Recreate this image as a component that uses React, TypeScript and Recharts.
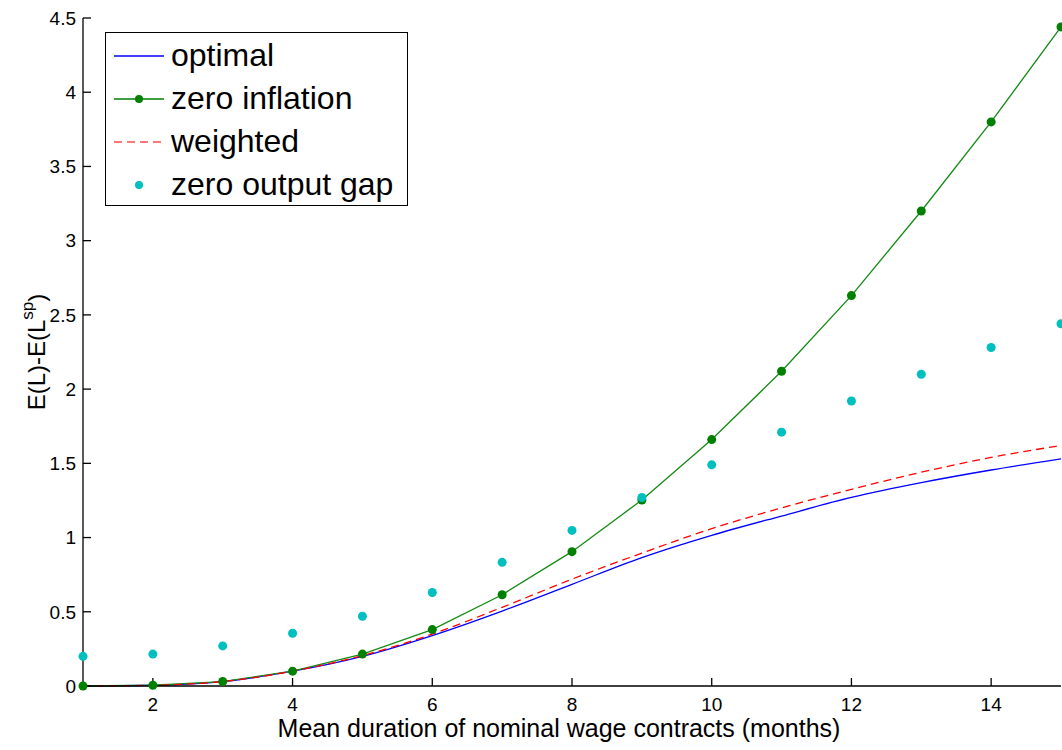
import { LineChart, Line, XAxis, YAxis, Legend, Label } from 'recharts';

const months = [1, 2, 3, 4, 5, 6, 7, 8, 9, 10, 11, 12, 13, 14, 15];
const optimal = [0, 0.005, 0.03, 0.1, 0.2, 0.34, 0.505, 0.685, 0.865, 1.015, 1.145, 1.27, 1.37, 1.455, 1.53];
const zeroInflation = [0, 0.005, 0.03, 0.1, 0.215, 0.38, 0.615, 0.905, 1.253, 1.66, 2.12, 2.63, 3.2, 3.8, 4.44];
const weighted = [0, 0.005, 0.03, 0.1, 0.205, 0.35, 0.53, 0.72, 0.895, 1.06, 1.2, 1.325, 1.44, 1.54, 1.62];
const zeroOutputGap = [0.2, 0.215, 0.27, 0.355, 0.47, 0.63, 0.833, 1.048, 1.27, 1.49, 1.71, 1.92, 2.1, 2.28, 2.44];

const xTicks = [2, 4, 6, 8, 10, 12, 14];
const yTicks = [0, 0.5, 1, 1.5, 2, 2.5, 3, 3.5, 4, 4.5];

const data = months.map((m, i) => ({
  x: m,
  optimal: optimal[i],
  zeroInflation: zeroInflation[i],
  weighted: weighted[i],
  zeroOutputGap: zeroOutputGap[i],
}));

const FONT = '"Liberation Sans", Arial, Helvetica, sans-serif';

const legendItems = [
  { label: 'optimal', kind: 'line', color: '#0000ff' },
  { label: 'zero inflation', kind: 'lineDot', color: '#008000' },
  { label: 'weighted', kind: 'dash', color: '#ff0000' },
  { label: 'zero output gap', kind: 'dot', color: '#00bfbf' },
];

const renderLegend = () => (
  <div
    style={{
      border: '1.5px solid #000',
      background: '#fff',
      width: 303,
      height: 174,
      boxSizing: 'border-box',
      paddingTop: 1,
      fontFamily: FONT,
    }}
  >
    {legendItems.map((it) => (
      <div key={it.label} style={{ display: 'flex', alignItems: 'center', height: 43 }}>
        <svg width={50} height={20} style={{ marginLeft: 8, marginRight: 7 }}>
          {it.kind !== 'dot' && (
            <line
              x1={0}
              y1={10}
              x2={50}
              y2={10}
              stroke={it.color}
              strokeWidth={1.3}
              strokeDasharray={it.kind === 'dash' ? '8 5' : undefined}
              opacity={it.kind === 'dash' ? 0.7 : 1}
            />
          )}
          {(it.kind === 'lineDot' || it.kind === 'dot') && <circle cx={25} cy={10} r={4} fill={it.color} />}
        </svg>
        <span style={{ fontSize: 32, color: '#000', lineHeight: '43px' }}>{it.label}</span>
      </div>
    ))}
  </div>
);

const YTitle = ({ viewBox }: any) => {
  const cx = viewBox.x + 13;
  const cy = viewBox.y + viewBox.height / 2;
  return (
    <text
      x={cx}
      y={cy}
      transform={`rotate(-90 ${cx} ${cy})`}
      textAnchor="middle"
      dominantBaseline="central"
      fontSize={24}
      fontFamily={FONT}
      fill="#000"
    >
      E(L)-E(L
      <tspan dy={-9} fontSize={17}>sp</tspan>
      <tspan dy={9}>)</tspan>
    </text>
  );
};

const XTitle = ({ viewBox }: any) => (
  <text
    x={viewBox.x + viewBox.width / 2 - 13}
    y={viewBox.y + 51}
    textAnchor="middle"
    fontSize={25}
    fontFamily={FONT}
    fill="#000"
  >
    Mean duration of nominal wage contracts (months)
  </text>
);

const tickStyle = { fontSize: 19, fontFamily: FONT, fill: '#000' };
const noLabel = () => <g />;

export default function App() {
  return (
    <div style={{ position: 'absolute', left: 0, top: 0, background: '#fff' }}>
      <LineChart width={1062} height={750} data={data} margin={{ top: 18, right: 1, left: 23, bottom: 34 }}>
        <XAxis
          dataKey="x"
          type="number"
          domain={[1, 15]}
          ticks={xTicks}
          height={30}
          stroke="#000"
          strokeWidth={1.3}
          tickSize={-8}
          tickMargin={20}
          tick={tickStyle}
        >
          <Label content={<XTitle />} />
        </XAxis>
        <XAxis
          xAxisId="top"
          orientation="top"
          dataKey="x"
          type="number"
          domain={[1, 15]}
          ticks={xTicks}
          height={0}
          stroke="#000"
          strokeWidth={1.3}
          tickSize={-8}
          tick={noLabel}
        />
        <YAxis
          type="number"
          domain={[0, 4.5]}
          ticks={yTicks}
          width={60}
          stroke="#000"
          strokeWidth={1.3}
          tickSize={-8}
          tickMargin={15}
          tick={tickStyle}
        >
          <Label content={<YTitle />} />
        </YAxis>
        <YAxis
          yAxisId="right"
          orientation="right"
          type="number"
          domain={[0, 4.5]}
          ticks={yTicks}
          width={0}
          stroke="#000"
          strokeWidth={1.3}
          tickSize={-8}
          tick={noLabel}
        />
        <Legend
          layout="vertical"
          align="center"
          verticalAlign="middle"
          content={renderLegend}
          wrapperStyle={{ left: 105, top: 32, width: 303, height: 174 }}
        />
        <Line
          dataKey="optimal"
          type="monotone"
          stroke="#0000ff"
          strokeWidth={1.3}
          dot={false}
          isAnimationActive={false}
        />
        <Line
          dataKey="zeroInflation"
          type="linear"
          stroke="#138a13"
          strokeWidth={1.3}
          dot={{ r: 4.5, fill: '#008000', stroke: 'none' }}
          isAnimationActive={false}
        />
        <Line
          dataKey="weighted"
          type="monotone"
          stroke="#ff0000"
          strokeWidth={1.3}
          strokeDasharray="8 5"
          dot={false}
          isAnimationActive={false}
        />
        <Line
          dataKey="zeroOutputGap"
          stroke="none"
          dot={{ r: 4.5, fill: '#00bfbf', stroke: 'none' }}
          isAnimationActive={false}
        />
      </LineChart>
    </div>
  );
}
